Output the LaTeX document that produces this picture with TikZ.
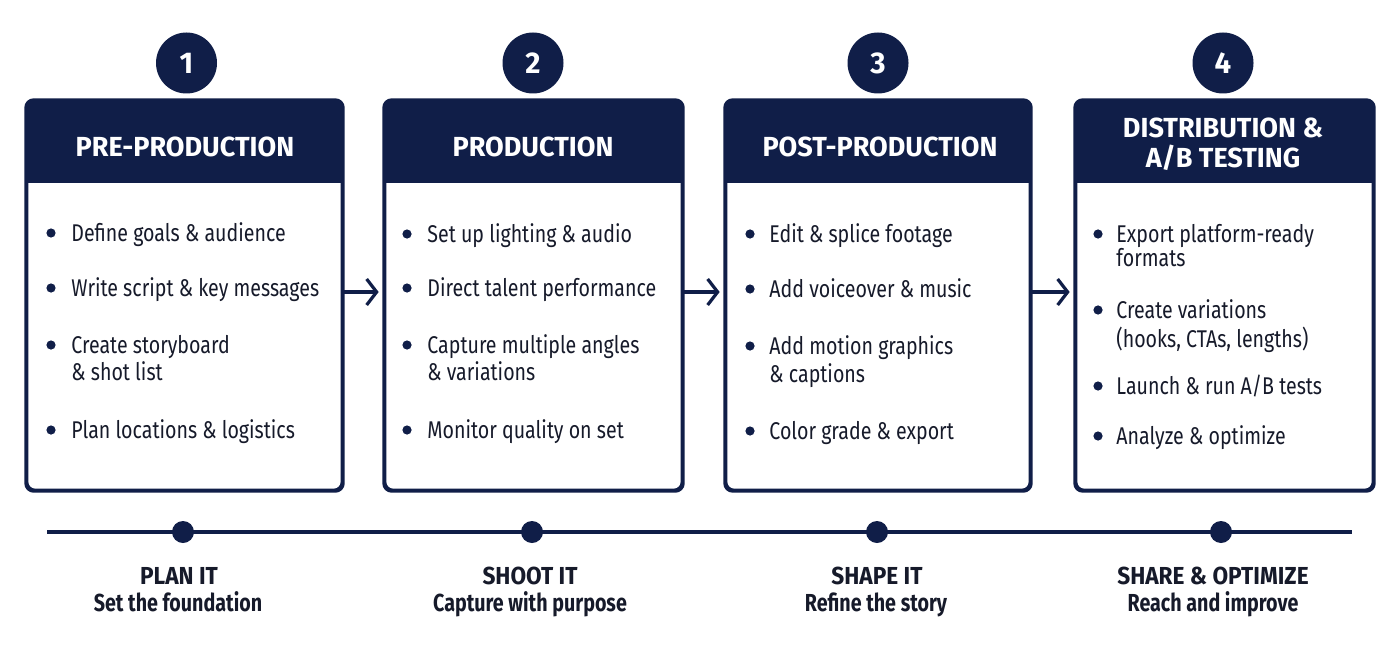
\documentclass[tikz,border=0pt]{standalone}
\usepackage{fontspec}
\setmainfont{Fira Sans}
\newfontfamily\bodyfont[FakeStretch=0.81]{Fira Sans}
\newfontfamily\headfont[FakeStretch=0.98]{Fira Sans}
\newfontfamily\labfont[FakeStretch=0.8]{Fira Sans}
\newfontfamily\capfont[FakeStretch=0.92]{Fira Sans}
\usetikzlibrary{arrows.meta,calc,fit}
\definecolor{navy}{RGB}{16,30,72}
\definecolor{ink}{RGB}{22,26,42}
\tikzset{
 card/.style={draw=navy, line width=1.35pt, rounded corners=4pt, fill=white, inner sep=0pt},
 headtxt/.style={anchor=base, inner sep=0pt, text=white, font=\headfont\bfseries\fontsize{13.8}{15}\selectfont},
 numc/.style={circle, fill=navy, minimum size=30.5pt, inner sep=0pt, text=white, font=\headfont\bfseries\fontsize{15}{15}\selectfont},
 item/.style={anchor=base west, inner sep=0pt, text=ink, font=\bodyfont\fontsize{12.1}{13}\selectfont},
 flow/.style={draw=navy, line width=1.6pt, -{Straight Barb[length=5pt,width=13pt]}, shorten >=2.5pt},
 dot/.style={circle, fill=navy, minimum size=11pt, inner sep=0pt},
 stage/.style={anchor=base, inner sep=0pt, text=ink, font=\labfont\bfseries\fontsize{12.3}{13}\selectfont},
 stagecap/.style={stage, font=\capfont\bfseries\fontsize{12.3}{13}\selectfont},
 tl/.style={draw=navy, line width=1.7pt},
}
\newcommand\mkcard[3]{%
 \node[card, fit={(#2,101) (#3,490)}] (#1) {};
 \begin{scope}
 \clip[rounded corners=4pt] (#1.south west) rectangle (#1.north east);
 \fill[navy] (#1.north west) rectangle (#3,183);
 \end{scope}
 \draw[navy, line width=1.35pt, rounded corners=4pt] (#1.south west) rectangle (#1.north east);
}
\newcommand\bul[2]{\fill[navy] (#1,#2-8) circle (2.3pt);}
\begin{document}
\begin{tikzpicture}[x=0.5pt,y=-0.5pt]
\useasboundingbox[fill=white] (0,0) rectangle (1400,647);

% cards
\mkcard{b1}{27}{342}
\mkcard{b2}{385}{682}
\mkcard{b3}{726}{1030}
\mkcard{b4}{1076}{1373}

% numbers
\node[numc] (n1) at (186.5,63) {1};
\node[numc] (n2) at (533,63) {2};
\node[numc] (n3) at (878,63) {3};
\node[numc] (n4) at (1223,63) {4};

% headers
\node[headtxt] (h1) at (185,156) {PRE-PRODUCTION};
\node[headtxt] (h2) at (533,156) {PRODUCTION};
\node[headtxt] (h3) at (880,156) {POST-PRODUCTION};
\node[headtxt] (h4a) at (1223,137) {DISTRIBUTION \&};
\node[headtxt] (h4b) at (1223,167) {A/B TESTING};

% items box 1
\bul{51}{241}\node[item] (t11) at (71,241) {Define goals \& audience};
\bul{51}{296}\node[item] (t12) at (71,296) {Write script \& key messages};
\bul{51}{353}\node[item] (t13) at (71,353) {Create storyboard};
\node[item] (t13b) at (71,380) {\& shot list};
\bul{51}{438}\node[item] (t14) at (71,438) {Plan locations \& logistics};

% items box 2
\bul{407}{242}\node[item] (t21) at (427,242) {Set up lighting \& audio};
\bul{407}{296}\node[item] (t22) at (427,296) {Direct talent performance};
\bul{407}{353}\node[item] (t23) at (427,353) {Capture multiple angles};
\node[item] (t23b) at (427,380) {\& variations};
\bul{407}{438}\node[item] (t24) at (427,438) {Monitor quality on set};

% items box 3
\bul{750}{242}\node[item] (t31) at (769,242) {Edit \& splice footage};
\bul{750}{297}\node[item] (t32) at (769,297) {Add voiceover \& music};
\bul{750}{354}\node[item] (t33) at (769,354) {Add motion graphics};
\node[item] (t33b) at (769,382) {\& captions};
\bul{750}{439}\node[item] (t34) at (769,439) {Color grade \& export};

% items box 4
\bul{1098}{242}\node[item] (t41) at (1116,242) {Export platform-ready};
\node[item] (t41b) at (1116,266) {formats};
\bul{1098}{318}\node[item] (t42) at (1116,318) {Create variations};
\node[item] (t42b) at (1116,347) {(hooks, CTAs, lengths)};
\bul{1098}{394}\node[item] (t43) at (1116,394) {Launch \& run A/B tests};
\bul{1098}{444}\node[item] (t44) at (1116,444) {Analyze \& optimize};

% flow arrows
\draw[flow] ($(b1.east)+(0,-3.5)$) -- ($(b2.west)+(0,-3.5)$);
\draw[flow] ($(b2.east)+(0,-3.5)$) -- ($(b3.west)+(0,-3.5)$);
\draw[flow] ($(b3.east)+(0,-3.5)$) -- ($(b4.west)+(0,-3.5)$);

% timeline
\coordinate (tl0) at (47,532);
\coordinate (tl1) at (1352,532);
\draw[tl] (tl0) -- (tl1);
\node[dot] (d1) at (183,532) {};
\node[dot] (d2) at (532,532) {};
\node[dot] (d3) at (877,532) {};
\node[dot] (d4) at (1221,532) {};

% stage labels
\node[stagecap] (s1) at (179,584) {PLAN IT};
\node[stage] (s1b) at (178,611) {Set the foundation};
\node[stagecap] (s2) at (530,584) {SHOOT IT};
\node[stage] (s2b) at (530,611) {Capture with purpose};
\node[stagecap] (s3) at (877,584) {SHAPE IT};
\node[stage] (s3b) at (876,611) {Refine the story};
\node[stagecap] (s4) at (1213,584) {SHARE \& OPTIMIZE};
\node[stage] (s4b) at (1213,611) {Reach and improve};
\end{tikzpicture}
\end{document}
